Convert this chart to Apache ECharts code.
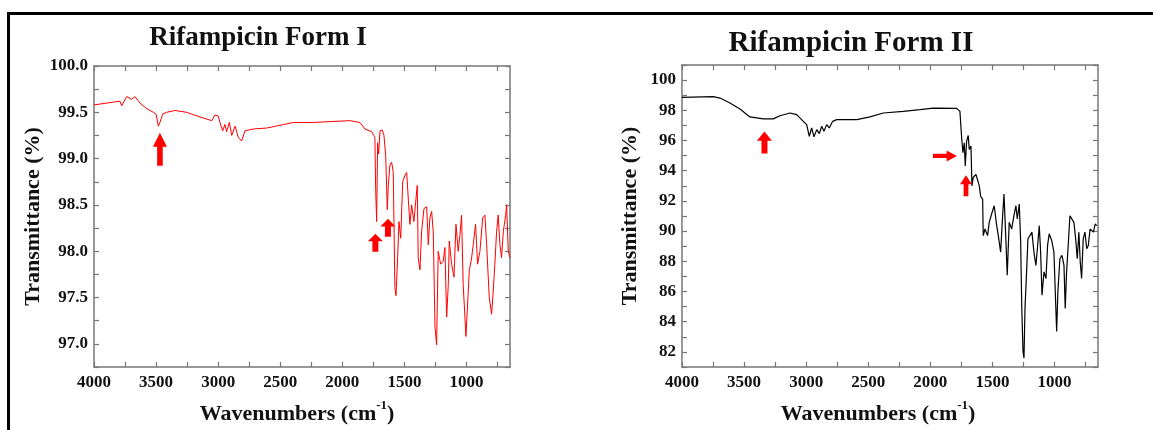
<!DOCTYPE html>
<html>
<head>
<meta charset="utf-8">
<script src="https://cdn.jsdelivr.net/npm/echarts@6/dist/echarts.min.js"></script>
<style>
html,body{margin:0;padding:0;background:#fff;}
#chart{width:1153px;height:430px;}
</style>
</head>
<body>
<div id="chart"></div>
<script>
// ---------- data ----------
const titleI = 'Rifampicin Form I';
const titleII = 'Rifampicin Form II';
const yName = 'Transmittance (%)';

// Form I (red) wavenumbers and transmittance
const wnI = [4000,3845,3791,3777,3737,3697,3670,3630,3576,3522,3500,3482,3469,3447,3415,3348,3254,3147,3052,3026,3000,2986,2964,2945,2932,2910,2891,2864,2838,2811,2784,2717,2610,2502,2395,2234,2100,1939,1858,1818,1764,1738,1732,1724,1716,1708,1697,1679,1665,1651,1638,1630,1617,1603,1590,1577,1568,1555,1544,1530,1514,1496,1482,1466,1456,1442,1424,1407,1397,1389,1375,1362,1343,1321,1308,1295,1281,1268,1254,1241,1228,1209,1188,1174,1160,1147,1139,1120,1101,1085,1067,1053,1040,1027,1013,1005,994,978,959,946,927,911,892,870,852,838,817,798,785,772,758,745,731,718,704,685,677,664,650];
const tI = [99.58,99.61,99.62,99.57,99.67,99.64,99.67,99.60,99.54,99.50,99.48,99.35,99.39,99.48,99.50,99.52,99.50,99.45,99.41,99.47,99.46,99.39,99.30,99.37,99.29,99.39,99.25,99.35,99.23,99.19,99.30,99.32,99.33,99.36,99.39,99.39,99.40,99.41,99.39,99.32,99.29,99.23,98.69,98.32,99.17,99.05,99.30,99.31,99.25,99.03,98.45,98.71,98.93,98.96,98.85,97.61,97.52,97.93,98.32,98.14,98.75,98.82,98.85,98.50,98.29,98.50,98.32,98.57,98.71,97.93,97.80,98.21,98.46,98.48,98.07,98.36,98.43,98.21,97.18,96.99,98.00,97.86,97.89,98.04,97.29,97.64,98.11,97.86,97.72,98.29,98.00,98.18,98.39,97.64,97.29,97.08,97.36,97.79,97.93,98.07,98.29,97.86,98.00,98.36,98.39,98.07,97.50,97.32,97.57,97.86,98.21,98.39,98.07,97.93,98.21,98.39,98.50,98.00,97.93];

// Form II (black)
const wnII = [4000,3748,3694,3614,3533,3453,3345,3265,3211,3130,3077,3023,2996,2975,2956,2937,2915,2894,2875,2857,2835,2814,2787,2754,2593,2486,2379,2218,2084,1977,1788,1762,1748,1738,1727,1719,1708,1695,1687,1673,1665,1655,1633,1617,1606,1595,1579,1574,1560,1539,1526,1507,1486,1466,1453,1434,1418,1407,1391,1381,1365,1345,1327,1311,1300,1284,1273,1264,1254,1246,1238,1225,1214,1198,1182,1166,1150,1136,1123,1112,1101,1085,1069,1056,1043,1023,1005,994,983,973,957,940,924,914,903,890,876,860,844,830,817,804,793,782,769,755,741,728,714,700,687,673,660];
const tII = [98.85,98.91,98.81,98.48,98.09,97.56,97.43,97.43,97.64,97.82,97.71,97.27,97.05,96.28,96.83,96.24,96.72,96.46,96.94,96.61,97.05,96.83,97.27,97.38,97.38,97.56,97.82,97.93,98.04,98.15,98.13,97.93,96.18,95.19,95.85,94.31,95.96,96.33,95.41,95.63,92.99,93.55,93.76,93.76,92.99,92.30,92.12,89.70,90.14,89.70,90.58,91.13,91.68,90.36,89.70,88.61,91.02,92.45,89.27,87.07,90.58,90.14,91.02,91.68,90.80,91.79,89.38,84.99,82.03,81.59,84.88,87.30,89.49,89.70,89.93,88.61,87.73,89.05,90.36,88.61,85.76,87.30,86.86,89.05,89.82,89.38,88.61,85.98,83.35,85.98,88.17,88.39,87.73,84.88,87.30,89.05,91.02,91.02,90.58,89.49,88.17,89.93,87.95,86.86,89.49,89.93,88.83,89.05,90.14,90.25,89.93,90.47,90.36];

// axis ticks / labels
const xTicks = [750,1000,1250,1500,1750,2000,2250,2500,2750,3000,3250,3500,3750,4000];
const xLabels = [1000,1500,2000,2500,3000,3500,4000];

// annotation arrows [wavenumber, transmittance at tip]
const arrowsUpI = [[3469,99.28],[1734,98.19],[1633,98.35]];
const arrowsUpII = [[3336,96.6],[1713,93.7]];
const arrowsRightII = [[1786,94.98]];

// ---------- chart ----------
const FONT = '"Liberation Serif","Times New Roman",serif';
const AX = '#777';
const chart = echarts.init(document.getElementById('chart'));

function xAxes(grid, shiftPad) {
  const base = {
    type: 'value', gridIndex: grid, min: 650, max: 4000, inverse: true,
    splitLine: {show: false},
    axisLine: {show: true, onZero: false, lineStyle: {color: AX, width: 1.5}},
    axisTick: {show: true, inside: true, length: 5, customValues: xTicks, lineStyle: {color: AX, width: 1.2}}
  };
  return [
    Object.assign({}, base, {
      position: 'bottom',
      axisLabel: {customValues: xLabels, margin: 7, color: '#111', fontFamily: FONT, fontWeight: 'bold', fontSize: 17,
        formatter: v => String(Math.round(v))},
      name: '{b|Wavenumbers (cm}{s|-1}{b|)}',
      nameLocation: 'middle', nameGap: 32,
      nameTextStyle: {
        padding: [0, shiftPad, 0, 0],
        rich: {
          b: {fontFamily: FONT, fontWeight: 'bold', fontSize: 22, color: '#111', lineHeight: 26, verticalAlign: 'bottom'},
          s: {fontFamily: FONT, fontWeight: 'bold', fontSize: 13, color: '#111', lineHeight: 26, verticalAlign: 'top'}
        }
      }
    }),
    Object.assign({}, base, {position: 'top', axisLabel: {show: false}})
  ];
}

function yAxes(grid, min, max, interval, labelEvery, decimals, gap) {
  const base = {
    type: 'value', gridIndex: grid, min: min, max: max, interval: interval,
    splitLine: {show: false},
    axisLine: {show: true, onZero: false, lineStyle: {color: AX, width: 1.5}},
    axisTick: {show: true, inside: true, length: 5, lineStyle: {color: AX, width: 1.2}}
  };
  return [
    Object.assign({}, base, {
      position: 'left',
      axisLabel: {
        margin: 6, color: '#111', fontFamily: FONT, fontWeight: 'bold', fontSize: 17,
        showMinLabel: true, showMaxLabel: true,
        formatter: v => {
          const r = Math.round(v / labelEvery) * labelEvery;
          return Math.abs(r - v) < 1e-6 ? v.toFixed(decimals) : '';
        }
      },
      name: yName, nameLocation: 'middle', nameGap: gap, nameRotate: 90,
      nameTextStyle: {fontFamily: FONT, fontWeight: 'bold', fontSize: 22, color: '#111'}
    }),
    Object.assign({}, base, {position: 'right', axisLabel: {show: false}})
  ];
}

const upPath = 'path://M5,0 L10,6 L7,6 L7,14 L3,14 L3,6 L0,6 Z';
const rightPath = 'path://M14,5 L8,0 L8,3 L0,3 L0,7 L8,7 L8,10 Z';

function upMarks(list, w, h) {
  return list.map(p => ({coord: p, symbol: upPath, symbolSize: [w, h], symbolOffset: [0, h / 2]}));
}

const xa = xAxes(0, 10).concat(xAxes(1, 24));
const ya = yAxes(0, 96.75, 100, 0.25, 0.5, 1, 50).concat(yAxes(1, 81, 101, 1, 2, 0, 41));

const option = {
  backgroundColor: '#fff',
  animation: false,
  grid: [
    {left: 94, top: 66, width: 416, height: 304},
    {left: 682, top: 65, width: 416, height: 304}
  ],
  xAxis: xa,
  yAxis: ya,
  series: [
    {
      type: 'line', xAxisIndex: 0, yAxisIndex: 0, symbol: 'none',
      lineStyle: {color: '#ff0000', width: 1},
      data: wnI.map((w, i) => [w, tI[i]]),
      markPoint: {
        silent: true, label: {show: false},
        itemStyle: {color: '#ff0000'},
        data: upMarks(arrowsUpI.slice(0, 1), 14, 33).concat(upMarks(arrowsUpI.slice(1), 15, 18))
      }
    },
    {
      type: 'line', xAxisIndex: 2, yAxisIndex: 2, symbol: 'none',
      lineStyle: {color: '#000000', width: 1.2},
      data: wnII.map((w, i) => [w, tII[i]]),
      markPoint: {
        silent: true, label: {show: false},
        itemStyle: {color: '#ff0000'},
        data: upMarks(arrowsUpII.slice(0, 1), 15, 22)
          .concat(upMarks(arrowsUpII.slice(1), 12, 21))
          .concat(arrowsRightII.map(p => ({coord: p, symbol: rightPath, symbolSize: [24, 11], symbolOffset: [-12, 0]})))
      }
    }
  ],
  graphic: [
    {type: 'line', shape: {x1: 8, y1: 13.5, x2: 1153, y2: 13.5}, style: {stroke: '#000', lineWidth: 3}, silent: true},
    {type: 'line', shape: {x1: 8.5, y1: 12, x2: 8.5, y2: 430}, style: {stroke: '#000', lineWidth: 3}, silent: true},
    {type: 'text', x: 258, y: 38, style: {text: titleI, textAlign: 'center', textVerticalAlign: 'middle', fontFamily: FONT, fontWeight: 'bold', fontSize: 27, fill: '#111'}},
    {type: 'text', x: 851, y: 44, style: {text: titleII, textAlign: 'center', textVerticalAlign: 'middle', fontFamily: FONT, fontWeight: 'bold', fontSize: 29, fill: '#111'}}
  ]
};
chart.setOption(option);
</script>
</body>
</html>
